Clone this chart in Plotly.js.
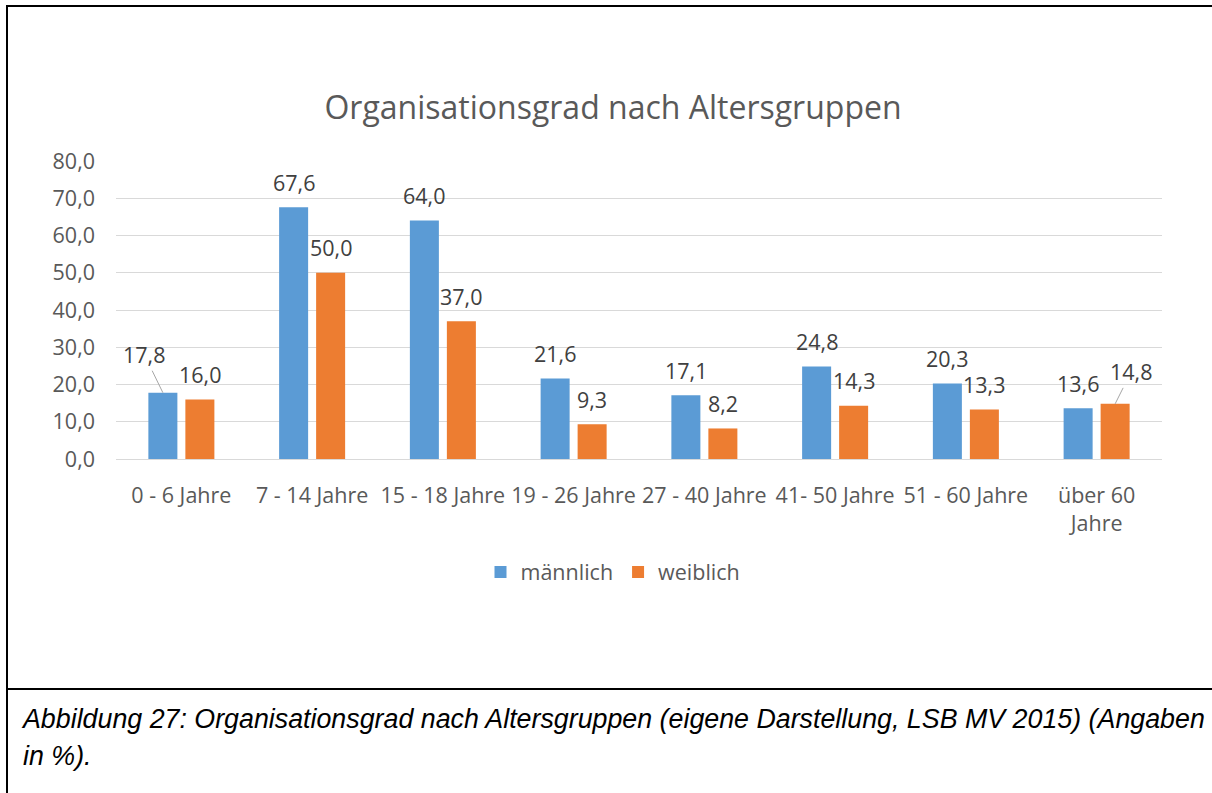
<!DOCTYPE html>
<html>
<head>
<meta charset="utf-8">
<script src="https://cdn.plot.ly/plotly-3.0.1.min.js"></script>
<style>
  html, body { margin: 0; padding: 0; background: #fff; }
  #wrap { position: relative; width: 1212px; height: 793px; overflow: hidden; }
  #chart { position: absolute; left: 0; top: 0; width: 1212px; height: 793px; }
  .ln { position: absolute; background: #000; }
  #caption { position: absolute; left: 23px; top: 701px; font-family: "Liberation Sans", Arial, sans-serif;
             font-style: italic; font-size: 26.8px; line-height: 37px; color: #000; white-space: nowrap; }
</style>
</head>
<body>
<div id="wrap">
  <div id="chart"></div>
  <div class="ln" style="left:6px; top:5px; width:1206px; height:2px;"></div>
  <div class="ln" style="left:6px; top:5px; width:2px; height:788px;"></div>
  <div class="ln" style="left:6px; top:688px; width:1206px; height:2px;"></div>
  <div id="caption">Abbildung 27: Organisationsgrad nach Altersgruppen (eigene Darstellung, LSB MV 2015) (Angaben<br>in %).</div>
</div>
<script>
const categories = ["0 - 6 Jahre", "7 - 14 Jahre", "15 - 18 Jahre", "19 - 26 Jahre", "27 - 40 Jahre", "41- 50 Jahre", "51 - 60 Jahre", "über 60<br>Jahre"];
const maennlich = [17.8, 67.6, 64.0, 21.6, 17.1, 24.8, 20.3, 13.6];
const weiblich  = [16.0, 50.0, 37.0, 9.3, 8.2, 14.3, 13.3, 14.8];
const seriesNames = ["männlich", "weiblich"];
const yTicks = [0, 10, 20, 30, 40, 50, 60, 70, 80];

const W = 1212, H = 793;
const margin = {l: 116, r: 50, t: 161, b: 334};
const bargap = 0.434;
const plotW = W - margin.l - margin.r;
const barOffset = (plotW / categories.length) * (1 - bargap) / 4;

const fontFam = '"Open Sans", "Noto Sans", sans-serif';
const fs = 21.5;
const fmt = v => v.toFixed(1).replace('.', ',');

// label displacement (leader lines) as in the reference, in pixels
const moved = { "0-0": [-18.5, -38], "1-7": [16, -32] };

const annotations = [];
[maennlich, weiblich].forEach((vals, s) => {
  vals.forEach((v, i) => {
    const key = s + "-" + i;
    const base = {
      x: categories[i], y: v, xref: 'x', yref: 'y',
      text: fmt(v),
      font: {family: fontFam, size: fs, color: '#404040'},
      xshift: (s === 0 ? -1 : 1) * barOffset
    };
    if (moved[key]) {
      Object.assign(base, {
        showarrow: true, arrowhead: 0, arrowwidth: 1, arrowcolor: '#A6A6A6',
        ax: moved[key][0], ay: moved[key][1], axref: 'pixel', ayref: 'pixel', standoff: 0
      });
    } else {
      Object.assign(base, {showarrow: false, yshift: 25, yanchor: 'middle'});
    }
    annotations.push(base);
  });
});

const traces = [
  {type: 'bar', name: seriesNames[0], x: categories, y: maennlich,
   marker: {color: '#5B9BD5'}, hoverinfo: 'skip'},
  {type: 'bar', name: seriesNames[1], x: categories, y: weiblich,
   marker: {color: '#ED7D31'}, hoverinfo: 'skip'}
];

const layout = {
  width: W, height: H,
  margin: margin,
  paper_bgcolor: '#fff', plot_bgcolor: '#fff',
  separators: ',.',
  barmode: 'group', bargap: bargap, bargroupgap: 0.216,
  font: {family: fontFam, size: fs, color: '#595959'},
  title: {
    text: 'Organisationsgrad nach Altersgruppen',
    font: {family: fontFam, size: 32, color: '#595959'},
    xref: 'container', yref: 'container',
    x: 613 / W, xanchor: 'center', y: 1 - 108 / H, yanchor: 'middle'
  },
  xaxis: {
    type: 'category', showgrid: false, showline: true, linecolor: '#D9D9D9', linewidth: 1,
    ticks: '', tickfont: {family: fontFam, size: fs, color: '#595959'},
    ticklabelstandoff: 17, fixedrange: true
  },
  yaxis: {
    range: [0, 80], tickvals: yTicks, tickformat: '.1f',
    showgrid: true, gridcolor: '#D9D9D9', gridwidth: 1, zeroline: false, showline: false,
    ticks: '', tickfont: {family: fontFam, size: fs, color: '#595959'},
    ticklabelstandoff: 20, fixedrange: true
  },
  showlegend: true,
  legend: {
    orientation: 'h', xref: 'container', yref: 'container',
    x: 613 / W, xanchor: 'center', y: 1 - 572 / H, yanchor: 'middle',
    font: {family: fontFam, size: fs, color: '#595959'}, itemclick: false, itemdoubleclick: false
  },
  annotations: annotations
};

Plotly.newPlot('chart', traces, layout, {displayModeBar: false, staticPlot: true});
</script>
</body>
</html>
